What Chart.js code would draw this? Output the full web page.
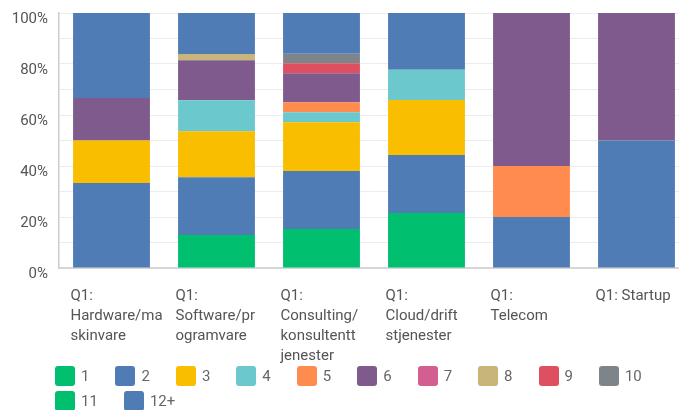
<!DOCTYPE html>
<html>
<head>
<meta charset="utf-8">
<script src="https://cdn.jsdelivr.net/npm/chart.js@4/dist/chart.umd.min.js"></script>
<style>
  body { margin: 0; overflow: hidden; background: #fff; }
  #wrap { position: relative; width: 690px; height: 410px; }
  #legend { position: absolute; left: 55px; top: 366px; width: 620px; font-family: Roboto, sans-serif; font-size: 15px; color: #666; }
  .item { display: inline-flex; align-items: center; height: 20px; margin: 0 26px 5px 0; }
  .box { width: 20px; height: 20px; border-radius: 3px; margin-right: 6px; }
</style>
</head>
<body>
<div id="wrap">
  <canvas id="chart" width="690" height="410"></canvas>
  <div id="legend"></div>
</div>
<script>
// categories (wrapped the way the original labels wrap)
var categories = [
  ["Q1:", "Hardware/ma", "skinvare"],
  ["Q1:", "Software/pr", "ogramvare"],
  ["Q1:", "Consulting/", "konsultentt", "jenester"],
  ["Q1:", "Cloud/drift", "stjenester"],
  ["Q1:", "Telecom"],
  ["Q1: Startup"]
];

var seriesNames = ["1", "2", "3", "4", "5", "6", "7", "8", "9", "10", "11", "12+"];

// percent of answers per category
var s1  = [0,    12.9, 15.3, 21.6, 0,  0];
var s2  = [33.3, 22.7, 22.7, 22.7, 20, 50];
var s3  = [16.7, 18.0, 19.2, 21.6, 0,  0];
var s4  = [0,    12.2, 3.9,  11.8, 0,  0];
var s5  = [0,    0,    3.9,  0,    20, 0];
var s6  = [16.7, 15.7, 11.4, 0,    60, 50];
var s7  = [0,    0,    0,    0,    0,  0];
var s8  = [0,    2.4,  0,    0,    0,  0];
var s9  = [0,    0,    3.9,  0,    0,  0];
var s10 = [0,    0,    3.7,  0,    0,  0];
var s11 = [0,    0,    0,    0,    0,  0];
var s12 = [33.3, 16.1, 16.0, 22.3, 0,  0];

var yTicks = [0, 20, 40, 60, 80, 100];

var colors = ["#00BF6F", "#507CB6", "#F9BE00", "#6BC8CD", "#FF8B4F", "#7F5A8D",
              "#D25F90", "#C8B579", "#DE4F5F", "#7D858A", "#00BF6F", "#507CB6"];

var allSeries = [s1, s2, s3, s4, s5, s6, s7, s8, s9, s10, s11, s12];

var datasets = allSeries.map(function (vals, i) {
  return {
    label: seriesNames[i],
    data: vals,
    backgroundColor: colors[i],
    borderWidth: 0,
    categoryPercentage: 1,
    barPercentage: 0.732
  };
});

var ctx = document.getElementById("chart").getContext("2d");
var chart = new Chart(ctx, {
  type: "bar",
  data: { labels: categories, datasets: datasets },
  options: {
    responsive: false,
    animation: false,
    layout: { padding: { top: 13, right: 1, left: 0, bottom: 0 } },
    plugins: {
      legend: { display: false },
      tooltip: { enabled: false }
    },
    scales: {
      x: {
        stacked: true,
        grid: { display: false, drawTicks: false },
        border: { display: true, color: "#d6d6d6", width: 2 },
        ticks: {
          autoSkip: false,
          maxRotation: 0,
          minRotation: 0,
          align: "start",
          labelOffset: -41,
          padding: 18,
          color: "#555",
          font: { family: "Roboto", size: 15, lineHeight: 1.33 }
        },
        afterFit: function (scale) {
          scale.height = 142;
          scale.paddingLeft = 0;
          scale.paddingRight = 0;
        }
      },
      y: {
        stacked: true,
        min: 0,
        max: 100,
        grid: { color: "#ececec", lineWidth: 1, drawTicks: false },
        border: { display: true, color: "#cccccc", width: 1.5 },
        ticks: {
          stepSize: 10,
          padding: 11,
          labelOffset: 6,
          color: "#555",
          font: { family: "Roboto", size: 15 },
          callback: function (value) {
            return yTicks.indexOf(value) >= 0 ? value + "%" : "";
          }
        },
        afterFit: function (scale) {
          scale.width = 59;
          scale.paddingTop = 0;
          scale.paddingBottom = 0;
        }
      }
    }
  }
});

// legend below the chart
var legend = document.getElementById("legend");
seriesNames.forEach(function (name, i) {
  var item = document.createElement("span");
  item.className = "item";
  item.innerHTML = '<span class="box" style="background:' + colors[i] + '"></span>' + name;
  legend.appendChild(item);
});
</script>
</body>
</html>
